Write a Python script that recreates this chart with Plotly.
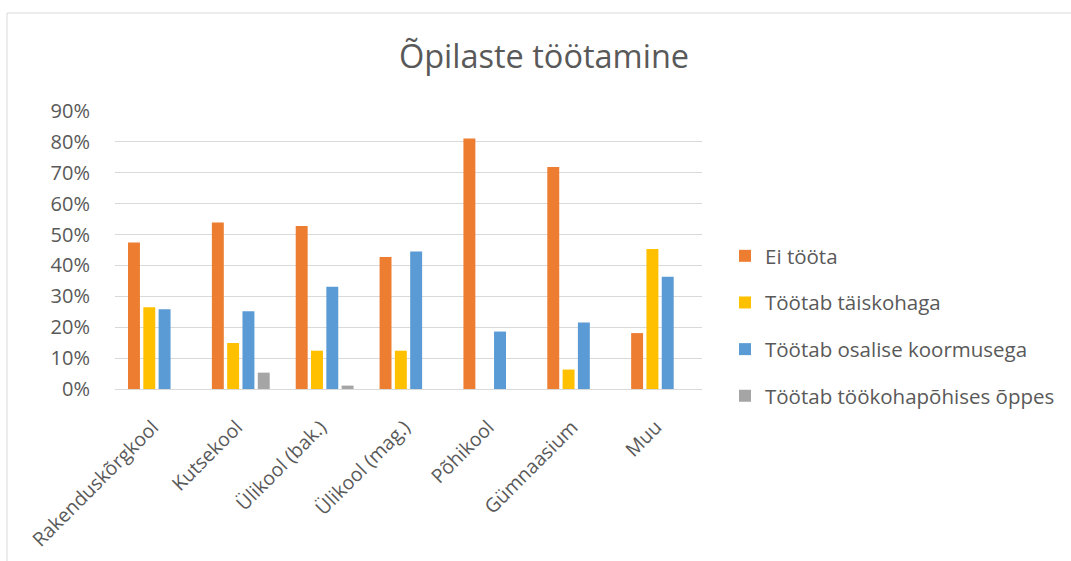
import plotly.graph_objects as go

categories = ["Rakenduskõrgkool", "Kutsekool", "Ülikool (bak.)", "Ülikool (mag.)",
              "Põhikool", "Gümnaasium", "Muu"]
ei_toota = [0.474, 0.539, 0.528, 0.427, 0.811, 0.719, 0.181]
taiskohaga = [0.265, 0.149, 0.124, 0.124, None, 0.063, 0.453]
osalise = [0.258, 0.252, 0.331, 0.445, 0.186, 0.215, 0.363]
tookohapohises = [None, 0.053, 0.011, None, None, None, None]

series_names = ["Ei tööta", "Töötab täiskohaga", "Töötab osalise koormusega",
                "Töötab töökohapõhises õppes"]
series_values = [ei_toota, taiskohaga, osalise, tookohapohises]
colors = ["#ED7D31", "#FFC000", "#5B9BD5", "#A5A5A5"]

FONT = "Open Sans"
TXT = "#595959"
fig = go.Figure()
for i, (name, vals, col) in enumerate(zip(series_names, series_values, colors)):
    fig.add_trace(go.Bar(x=categories, y=vals, name=name, marker_color=col,
                         marker_line_width=0, legendgroup=f"g{i}"))

W, H = 1071, 561
fig.update_layout(
    width=W, height=H,
    paper_bgcolor="white", plot_bgcolor="white",
    margin=dict(l=115, r=W - 702, t=111, b=H - 389, autoexpand=False),
    barmode="group", bargap=0.27, bargroupgap=0.22,
    font=dict(family=FONT, color=TXT, size=19),
    title=dict(text="Õpilaste töötamine", x=544 / W, xref="container", xanchor="center",
               y=1 - 57 / H, yref="container", yanchor="middle",
               font=dict(size=32.5, color=TXT, family=FONT)),
    yaxis=dict(range=[0, 0.9], dtick=0.1, tickformat=".0%", showgrid=True,
               gridcolor="#D9D9D9", gridwidth=1.3, zeroline=True, zerolinecolor="#D9D9D9",
               zerolinewidth=1.3, showline=False, ticks="", ticklabelstandoff=24,
               tickfont=dict(size=20, color=TXT)),
    xaxis=dict(tickangle=-45, showgrid=False, showline=False, ticks="",
               ticklabelstandoff=22, ticklabelshift=-4,
               tickfont=dict(size=19.5, color=TXT)),
    legend=dict(xref="container", yref="container", x=725 / W, y=1 - 236 / H,
                xanchor="left", yanchor="top", tracegroupgap=17,
                font=dict(size=20.5, color=TXT), bgcolor="rgba(0,0,0,0)"),
    showlegend=True,
    shapes=[dict(type="rect", xref="paper", yref="paper",
                 x0=(7 - 115) / 587, x1=(1080 - 115) / 587,
                 y0=(389 - 600) / 278, y1=(389 - 13) / 278,
                 line=dict(color="#D9D9D9", width=1), fillcolor="rgba(0,0,0,0)",
                 layer="below")],
)
fig.write_html("out.html", config={"displayModeBar": False},
               post_script="document.body.style.margin='0';")
